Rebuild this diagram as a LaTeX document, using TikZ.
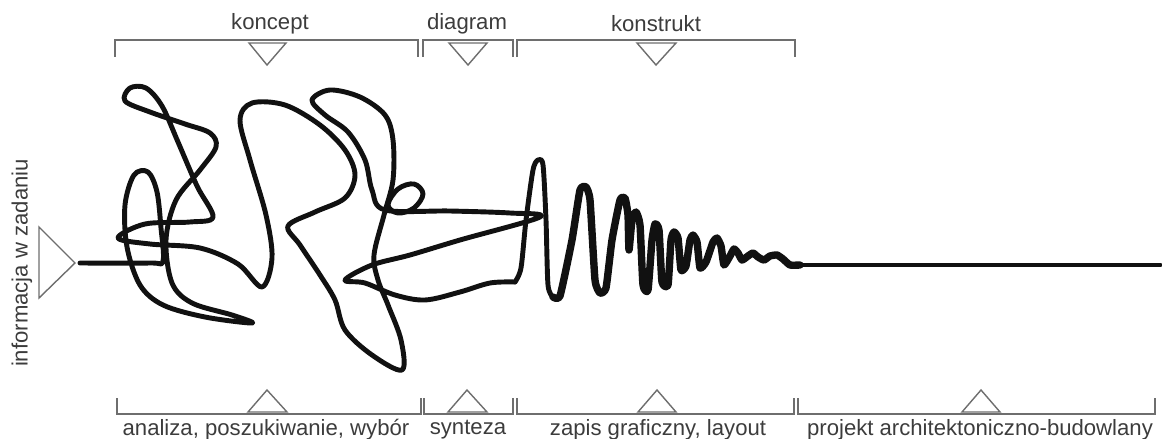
\documentclass[tikz,border=0pt]{standalone}
\usepackage{fontspec}
\setmainfont{Liberation Sans}
\usetikzlibrary{positioning}
\definecolor{Ink}{HTML}{111111}
\definecolor{Label}{HTML}{3C3C3C}
\definecolor{Rule}{HTML}{6E6E6E}
\tikzset{
  phase/.style={text=Label, font=\fontsize{12.6}{14}\selectfont, inner sep=0pt},
  bracket/.style={draw=Rule, line width=0.8pt},
  marker/.style={draw=Rule, line width=0.8pt, fill=white, line join=miter},
  scribble/.style={draw=Ink, line width=2.8pt, line cap=round, line join=round},
  zigzag/.style={scribble, line width=4.2pt}
}

\begin{document}
\begin{tikzpicture}[x=0.02cm,y=-0.02cm]
        \useasboundingbox (0,0) rectangle (1162,439);
        % top labels
        \node[phase] (koncept) at (270,24) {koncept};
        \node[phase] (diagram) at (467,24) {diagram};
        \node[phase] (konstrukt) at (656,24) {konstrukt};
        % bottom labels
        \node[phase] (analiza) at (266,430) {analiza, poszukiwanie, wybór};
        \node[phase] (synteza) at (468,430) {synteza};
        \node[phase] (zapis) at (658,430) {zapis graficzny, layout};
        \node[phase] (projekt) at (980,430) {projekt architektoniczno-budowlany};
        \node[phase,rotate=90] (info) at (22,263) {informacja w zadaniu};
        % top brackets
        \draw[bracket] (115,57) -- (115,40) -- (418,40) -- (418,57);
        \draw[bracket] (423,57) -- (423,40) -- (513,40) -- (513,57);
        \draw[bracket] (517,57) -- (517,40) -- (795,40) -- (795,57);
        % bottom brackets
        \draw[bracket] (117,398) -- (117,414) -- (421,414) -- (421,398);
        \draw[bracket] (424,398) -- (424,414) -- (513,414) -- (513,398);
        \draw[bracket] (517,398) -- (517,414) -- (794,414) -- (794,398);
        \draw[bracket] (798,398) -- (798,414) -- (1155,414) -- (1155,398);
        % markers
        \draw[marker] (249,43) -- (286,43) -- (267,65) -- cycle;
        \draw[marker] (449,43) -- (487,43) -- (468,65) -- cycle;
        \draw[marker] (637,43) -- (676,43) -- (656,65) -- cycle;
        \draw[marker] (248,412) -- (287,412) -- (267,390) -- cycle;
        \draw[marker] (448,412) -- (487,412) -- (467,390) -- cycle;
        \draw[marker] (638,412) -- (676,412) -- (657,390) -- cycle;
        \draw[marker] (962,412) -- (1000,412) -- (981,390) -- cycle;
        \draw[marker] (39,227) -- (75,263) -- (39,298) -- cycle;
        % search tangle
        \draw[scribble] plot[smooth, tension=0.55] coordinates {
          (80,263) (150,263) (163,261) (161,228) (157,192) (148,172)
          (134,175) (125,205) (127,247) (140,285) (163,305) (205,317)
          (252,323) (232,315) (192,303) (172,283) (166,240) (176,200)
          (200,170) (216,147) (210,133) (185,124) (150,112) (125,101)
          (130,88) (146,88) (162,106) (178,142) (197,186) (213,217)
          (190,222) (145,224) (118,238) (150,244) (200,248) (238,264)
          (262,287) (272,258) (266,215) (250,160) (240,120) (252,103)
          (285,105) (320,125) (345,150) (355,175) (345,198) (315,212)
          (288,226) (300,245) (320,275) (335,300) (345,330) (372,355)
          (402,370) (401,340) (388,305) (378,280) (374,255) (384,215)
          (393,180) (393,140) (385,115) (360,97) (330,90) (312,100)
          (325,115) (348,132) (365,160) (372,190) (385,210) (450,211)
          (510,213) (540,217) (460,240) (410,255) (372,265) (345,280)
          (365,283) (395,295) (425,300) (460,292) (490,283) (515,282)
        };
        \draw[scribble] plot[smooth cycle, tension=0.6] coordinates {
          (388,205) (398,189) (414,184) (423,194) (414,208) (398,213)
        };
        % drawing spikes
        \draw[scribble] plot[smooth, tension=0.45] coordinates {
          (515,282) (521,268) (526,220) (533,170) (538,160) (543,165)
          (546,220) (548,285) (553,297)
        };
        \draw[zigzag] plot[smooth, tension=0.3] coordinates {
          (553,297) (560,296) (572,240) (580,190) (586,187) (590,200)
          (595,280) (600,293) (606,288) (612,240) (620,200) (625,198)
          (628,215) (629,250) (632,220) (636,212) (640,225) (643,285)
          (648,290) (652,240) (655,224) (659,230) (662,282) (668,285)
          (671,240) (674,232) (678,238) (681,270) (686,266) (690,240)
          (693,235) (697,242) (700,268) (706,262) (713,242) (717,238)
          (721,246) (724,265) (730,256) (734,249) (738,253) (742,260)
          (748,256) (753,253) (758,257) (764,260) (770,256) (777,255)
          (783,259) (790,265) (800,265)
        };
        % final project line
        \draw[scribble] (800,265) -- (1160,265);
      \end{tikzpicture}
\end{document}
